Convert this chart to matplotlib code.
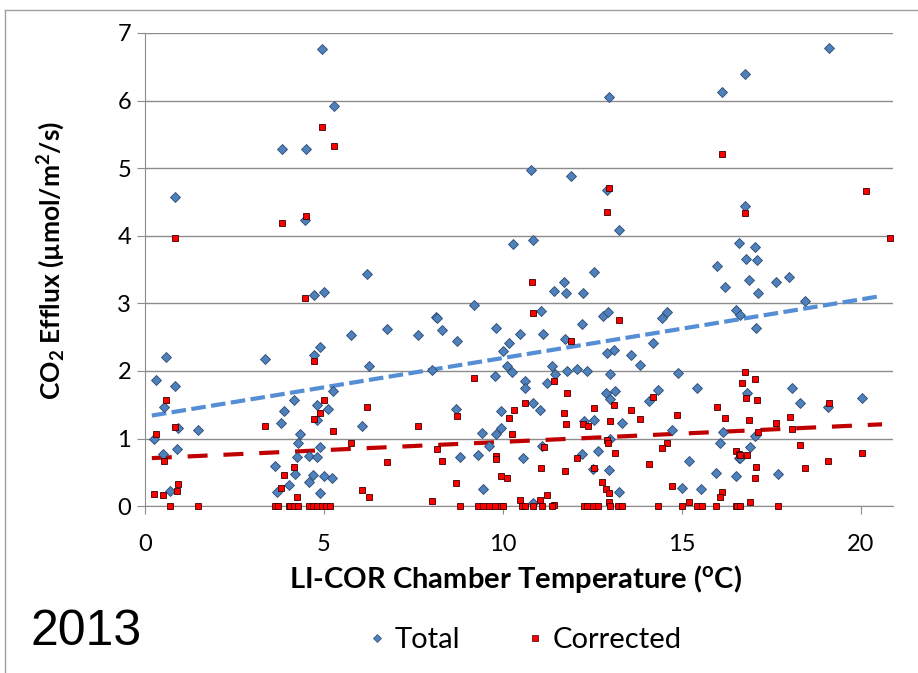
import numpy as np
import matplotlib.pyplot as plt
from matplotlib.lines import Line2D

plt.rcParams['font.family'] = ['Lato', 'DejaVu Sans']
plt.rcParams['mathtext.default'] = 'regular'

# Total CO2 efflux (blue diamonds)
total_temp = [3.84, 0.85,
              0.59, 3.34, 0.31, 0.85, 0.53, 3.89, 3.80, 0.93, 1.49, 0.25, 0.90, 0.51, 3.64, 3.70, 4.02, 0.71,
              4.96, 5.29, 4.50, 4.47,
              6.21, 4.72, 5.00, 8.13, 6.75, 5.75, 7.64, 4.89, 4.72, 6.25, 8.02, 5.24, 4.16, 4.81, 5.11, 4.80,
              6.06, 4.32, 4.28, 4.89, 4.24, 4.58, 4.81, 4.18, 4.70, 4.58, 5.00, 5.22, 4.89,
              10.80, 11.91, 10.29, 10.85,
              11.70, 11.42, 11.77, 12.25, 9.19, 11.06, 8.15, 8.31, 9.81, 12.21, 8.73, 10.49, 11.13, 10.16,
              11.74, 10.01, 10.12, 10.27, 9.79, 11.37, 11.47, 11.79, 12.08, 12.36, 11.23, 10.63, 10.62, 10.84,
              11.04, 8.68, 9.96, 12.27, 9.96, 9.42, 9.81, 9.61, 11.09, 8.79, 9.31, 10.56, 12.21, 9.45, 10.84,
              12.98, 16.14, 12.91, 13.26, 16.61, 15.98,
              12.56, 16.21, 12.79, 12.93, 14.46, 14.59, 16.52, 14.19, 12.90, 13.12, 13.58, 13.83, 13.00, 14.89,
              12.88, 13.15, 13.00, 14.33, 14.09, 15.42, 12.56, 13.32, 14.74, 16.15, 13.00, 16.06, 12.67, 16.61,
              15.21, 12.53, 12.97, 15.95, 16.52, 13.26, 15.02, 15.55,
              19.13, 16.78, 16.78, 17.06, 16.81, 17.11,
              16.88, 17.65, 18.01, 17.13, 18.44, 16.63, 17.08, 16.83, 18.07, 18.31, 19.10, 20.05, 17.06, 16.91,
              16.63, 17.70]
total_flux = [5.28, 4.58,
              2.20, 2.17, 1.87, 1.78, 1.46, 1.41, 1.23, 1.15, 1.12, 0.99, 0.84, 0.77, 0.60, 0.21, 0.31, 0.22,
              6.76, 5.92, 5.28, 4.23,
              3.43, 3.12, 3.17, 2.80, 2.62, 2.53, 2.53, 2.36, 2.24, 2.08, 2.02, 1.71, 1.57, 1.49, 1.43, 1.28,
              1.19, 1.06, 0.94, 0.88, 0.72, 0.74, 0.72, 0.47, 0.46, 0.36, 0.44, 0.42, 0.19,
              4.98, 4.89, 3.88, 3.94,
              3.32, 3.18, 3.16, 3.16, 2.97, 2.88, 2.79, 2.60, 2.63, 2.69, 2.44, 2.54, 2.54, 2.42,
              2.47, 2.30, 2.08, 1.99, 1.93, 2.08, 1.96, 2.00, 2.03, 2.00, 1.82, 1.85, 1.75, 1.53,
              1.42, 1.43, 1.41, 1.26, 1.15, 1.08, 1.06, 0.89, 0.89, 0.73, 0.76, 0.71, 0.77, 0.26, 0.05,
              6.05, 6.12, 4.67, 4.08, 3.90, 3.55,
              3.46, 3.24, 2.81, 2.87, 2.79, 2.87, 2.90, 2.42, 2.26, 2.31, 2.24, 2.09, 1.95, 1.97,
              1.68, 1.71, 1.58, 1.72, 1.55, 1.75, 1.27, 1.23, 1.12, 1.10, 1.00, 0.94, 0.81, 0.71,
              0.67, 0.55, 0.54, 0.49, 0.45, 0.21, 0.27, 0.25,
              6.78, 6.40, 4.44, 3.83, 3.66, 3.64,
              3.35, 3.31, 3.39, 3.16, 3.04, 2.83, 2.64, 1.68, 1.75, 1.52, 1.46, 1.60, 1.03, 0.87,
              0.71, 0.48]

# Corrected CO2 efflux (red squares)
corr_temp = [3.84, 0.85,
             0.59, 0.85, 3.34, 0.31, 0.53, 3.89, 3.80, 0.92, 0.25, 0.51, 0.90, 0.71, 1.49, 3.64, 3.72, 4.02,
             4.96, 5.29, 4.50,
             4.47, 4.72, 5.00, 4.89, 4.72, 6.21, 7.64, 5.24, 5.75, 8.15, 6.75, 4.16, 4.25, 6.06, 6.25, 8.02,
             4.05, 4.16, 4.28, 4.58, 4.70, 4.81, 4.94, 5.05, 5.17,
             10.81, 10.85, 11.91, 9.19, 11.43, 11.79, 10.63, 8.73, 10.30, 10.16, 11.72, 11.77, 12.25, 12.38,
             10.27, 11.14, 9.81, 9.81, 8.31, 12.08, 11.06, 11.74, 9.96, 10.12, 8.68, 11.23, 10.49, 11.04, 11.43,
             8.79, 9.30, 9.45, 9.61, 9.79, 9.96, 10.01, 10.54, 10.63, 10.84, 11.09, 11.37, 12.27,
             16.14, 12.97, 12.92,
             13.26, 14.21, 13.12, 12.56, 13.58, 13.83, 14.88, 15.98, 16.21, 13.01, 12.90, 12.93, 14.58, 14.46,
             13.15, 16.52, 16.61, 14.09, 12.56, 12.77, 12.89, 12.98, 14.74, 16.14, 16.06, 12.97, 15.21,
             12.34, 12.53, 12.67, 13.00, 13.23, 13.32, 14.35, 15.02, 15.42, 15.56, 15.96, 16.52,
             20.14, 16.78, 20.81,
             16.78, 16.69, 17.06, 16.80, 17.11, 19.13, 16.88, 17.65, 18.02, 18.07, 17.12, 16.63, 16.83, 18.31,
             20.05, 17.08, 18.44, 19.10, 17.06, 16.91, 16.54, 16.63, 17.70]
corr_flux = [4.19, 3.97,
             1.57, 1.17, 1.18, 1.06, 0.66, 0.46, 0.27, 0.33, 0.18, 0.16, 0.22, 0, 0, 0, 0, 0,
             5.61, 5.33, 4.29,
             3.08, 2.14, 1.57, 1.38, 1.29, 1.46, 1.19, 1.11, 0.93, 0.85, 0.65, 0.58, 0.14, 0.24, 0.14, 0.07,
             0, 0, 0, 0, 0, 0, 0, 0, 0,
             3.31, 2.86, 2.44, 1.89, 1.85, 1.68, 1.53, 1.33, 1.42, 1.31, 1.38, 1.21, 1.21, 1.19,
             1.06, 0.87, 0.74, 0.69, 0.66, 0.71, 0.57, 0.52, 0.45, 0.42, 0.34, 0.16, 0.09, 0.09, 0.02,
             0, 0, 0, 0, 0, 0, 0, 0, 0, 0, 0, 0, 0,
             5.21, 4.71, 4.35,
             2.75, 1.61, 1.49, 1.45, 1.42, 1.29, 1.35, 1.47, 1.31, 1.26, 0.98, 0.93, 0.93, 0.86,
             0.79, 0.82, 0.77, 0.63, 0.57, 0.35, 0.26, 0.19, 0.30, 0.21, 0.14, 0.06, 0.06,
             0, 0, 0, 0, 0, 0, 0, 0, 0, 0, 0, 0,
             4.66, 4.34, 3.97,
             1.99, 1.82, 1.88, 1.60, 1.57, 1.53, 1.27, 1.23, 1.32, 1.14, 1.09, 0.76, 0.75, 0.91,
             0.79, 0.58, 0.57, 0.66, 0.42, 0.06, 0, 0, 0]

# linear trendlines (end points)
trend_temp = [0.19, 20.6]
total_trend = [1.34, 3.11]
corr_trend = [0.71, 1.21]

fig = plt.figure(figsize=(9.18, 6.73), dpi=100)
ax = fig.add_axes([0.158, 0.248, 0.8145, 0.703])

ax.plot(trend_temp, total_trend, color='#558ED5', lw=3, dashes=(3.5, 1.3), zorder=3)
ax.plot(trend_temp, corr_trend, color='#C00000', lw=3, dashes=(4.8, 3.8), zorder=3)

ax.plot(total_temp, total_flux, ls='none', marker='D', ms=5, mfc='#4F81BD', mec='#2B4A6F', mew=0.6,
        clip_on=False, zorder=4)
ax.plot(corr_temp, corr_flux, ls='none', marker='s', ms=4.6, mfc='#FF0000', mec='#3A0000', mew=0.6,
        clip_on=False, zorder=4)

ax.set_xlim(0, 20.9)
ax.set_ylim(0, 7)
ax.set_xticks([0, 5, 10, 15, 20])
ax.set_yticks(range(0, 8))
ax.yaxis.grid(True, color='#8C8C8C', lw=1)
ax.set_axisbelow(True)
for s in ['top', 'right']:
    ax.spines[s].set_visible(False)
for s in ['left', 'bottom']:
    ax.spines[s].set_color('#8C8C8C')
ax.tick_params(axis='both', direction='out', length=6, color='#8C8C8C', labelsize=17)
ax.tick_params(axis='x', pad=14)
ax.tick_params(axis='y', pad=4)

ax.set_xlabel('LI-COR Chamber Temperature ($^{o}$C)', fontsize=21, fontweight='bold')
ax.set_ylabel('CO$_{2}$ Efflux (\u00b5mol/m$^{2}$/s)', fontsize=19, fontweight='bold')
ax.xaxis.set_label_coords(0.495, -0.12)
ax.yaxis.set_label_coords(-0.105, 0.52)

fig.text(0.033, 0.042, '2013', fontsize=36, family='Liberation Sans')

handles = [Line2D([], [], ls='none', marker='D', ms=4.5, mfc='#4F81BD', mec='#2B4A6F', mew=0.5),
           Line2D([], [], ls='none', marker='s', ms=3.8, mfc='#FF0000', mec='#3A0000', mew=0.5)]
fig.legend(handles, ['Total', 'Corrected'], loc='center', bbox_to_anchor=(0.572, 0.049), ncol=2,
           frameon=False, fontsize=21, handletextpad=0.3, columnspacing=2.25, handlelength=0.6)

# outer frame (top and left edges)
fig.add_artist(Line2D([0.005, 1], [0.985, 0.985], transform=fig.transFigure, color='#A0A0A0', lw=1))
fig.add_artist(Line2D([0.005, 0.005], [0, 0.985], transform=fig.transFigure, color='#A0A0A0', lw=1))

fig.savefig('out.png', dpi=100)
